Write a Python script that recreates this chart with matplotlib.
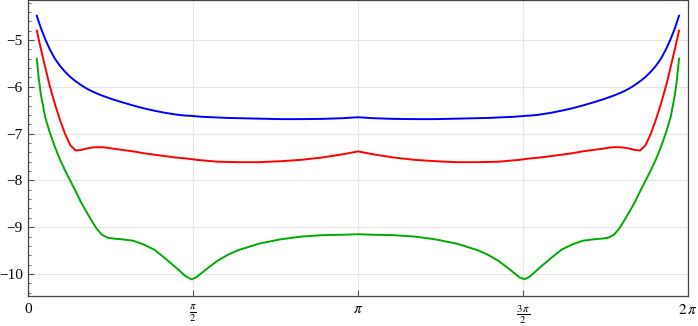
import numpy as np
import matplotlib.pyplot as plt

# values
x = [0.08, 0.10, 0.12, 0.16, 0.20, 0.25, 0.30, 0.35, 0.40, 0.45, 0.50, 0.55, 0.60, 0.65,
     0.70, 0.75, 0.80, 0.90, 1.00, 1.10, 1.20, 1.30, 1.40, 1.45, 1.50, 1.55, 1.571,
     1.60, 1.65, 1.70, 1.80, 1.90, 2.00, 2.20, 2.40, 2.60, 2.80, 3.00, 3.1416,
     3.28, 3.48, 3.68, 3.88, 4.08, 4.28, 4.38, 4.48, 4.58, 4.63, 4.68, 4.712, 4.73,
     4.78, 4.83, 4.88, 4.98, 5.08, 5.18, 5.28, 5.38, 5.48, 5.53, 5.58, 5.63, 5.68,
     5.73, 5.78, 5.83, 5.88, 5.93, 5.98, 6.03, 6.08, 6.12, 6.16, 6.18, 6.20]

blue = [-4.48, -4.62, -4.75, -4.98, -5.18, -5.39, -5.55, -5.68, -5.79, -5.88, -5.96,
        -6.03, -6.09, -6.14, -6.185, -6.225, -6.265, -6.335, -6.40, -6.46, -6.51, -6.555,
        -6.59, -6.605, -6.615, -6.62, -6.625, -6.63, -6.64, -6.645, -6.655, -6.665,
        -6.67, -6.68, -6.69, -6.69, -6.685, -6.67, -6.65,
        -6.67, -6.685, -6.69, -6.69, -6.68, -6.67, -6.665, -6.655, -6.645, -6.64,
        -6.63, -6.625, -6.62, -6.615, -6.605, -6.59, -6.555, -6.51, -6.46, -6.40, -6.335,
        -6.265, -6.225, -6.185, -6.14, -6.09, -6.03, -5.96, -5.88, -5.79, -5.68, -5.55,
        -5.39, -5.18, -4.98, -4.75, -4.62, -4.48]

red = [-4.80, -5.00, -5.20, -5.58, -5.95, -6.35, -6.70, -7.01, -7.25, -7.36, -7.35,
       -7.32, -7.30, -7.29, -7.29, -7.30, -7.32, -7.35, -7.38, -7.42, -7.45, -7.48,
       -7.51, -7.52, -7.53, -7.545, -7.55, -7.56, -7.57, -7.58, -7.60, -7.605, -7.61,
       -7.61, -7.59, -7.56, -7.51, -7.44, -7.38,
       -7.44, -7.51, -7.56, -7.59, -7.61, -7.61, -7.605, -7.60, -7.58, -7.57, -7.56,
       -7.55, -7.545, -7.53, -7.52, -7.51, -7.48, -7.45, -7.42, -7.38, -7.35, -7.32,
       -7.30, -7.29, -7.29, -7.30, -7.32, -7.35, -7.36, -7.25, -7.01, -6.70, -6.35,
       -5.95, -5.58, -5.20, -5.00, -4.80]

green = [-5.40, -5.85, -6.18, -6.65, -6.95, -7.27, -7.55, -7.79, -8.01, -8.23, -8.46,
         -8.66, -8.85, -9.03, -9.16, -9.22, -9.24, -9.26, -9.29, -9.37, -9.48, -9.66,
         -9.85, -9.95, -10.05, -10.11, -10.10, -10.07, -9.98, -9.89, -9.72, -9.59,
         -9.49, -9.35, -9.26, -9.20, -9.17, -9.16, -9.15,
         -9.16, -9.17, -9.20, -9.26, -9.35, -9.49, -9.59, -9.72, -9.89, -9.98, -10.07,
         -10.10, -10.11, -10.05, -9.95, -9.85, -9.66, -9.48, -9.37, -9.29, -9.26, -9.24,
         -9.22, -9.16, -9.03, -8.85, -8.66, -8.46, -8.23, -8.01, -7.79, -7.55, -7.27,
         -6.95, -6.65, -6.18, -5.85, -5.40]

xtick_pos = [0, np.pi / 2, np.pi, 3 * np.pi / 2, 2 * np.pi]
xtick_labels = ['0', r'$\frac{\pi}{2}$', r'$\pi$', r'$\frac{3\,\pi}{2}$', r'$2\,\pi$']
ytick_pos = [-10, -9, -8, -7, -6, -5]

plt.rcParams['font.family'] = ['Liberation Serif', 'DejaVu Serif']
plt.rcParams['mathtext.fontset'] = 'stix'

fig = plt.figure(figsize=(6.98, 3.26), dpi=100)
ax = fig.add_axes([0.0407, 0.092, 0.9446, 0.9065])

ax.plot(x, blue, color='#0000ff', lw=1.4)
ax.plot(x, red, color='#ff0000', lw=1.4)
ax.plot(x, green, color='#00aa00', lw=1.4)

ax.set_xlim(0, 2 * np.pi)
ax.set_ylim(-10.47, -4.155)

ax.set_xticks(xtick_pos)
ax.set_xticklabels(xtick_labels)
ax.set_yticks(ytick_pos)
ax.set_yticklabels([str(v).replace('-', '\u2212') for v in ytick_pos])
ax.set_yticks(np.arange(-10.4, -4.15, 0.2), minor=True)

for v in ytick_pos:
    ax.axhline(v, color='#e6e6e6', lw=0.8, zorder=0)
for v in xtick_pos[1:4]:
    ax.axvline(v, color='#e6e6e6', lw=0.8, zorder=0)

ax.tick_params(axis='both', which='major', direction='in', length=4, width=0.8,
               color='#555555', labelsize=11, pad=4)
ax.tick_params(axis='y', which='minor', direction='in', length=2, width=0.6,
               color='#555555')
ax.tick_params(axis='x', which='major', pad=5)
for s in ax.spines.values():
    s.set_color('#444444')
    s.set_linewidth(0.9)

fig.savefig('out.png', dpi=100)
